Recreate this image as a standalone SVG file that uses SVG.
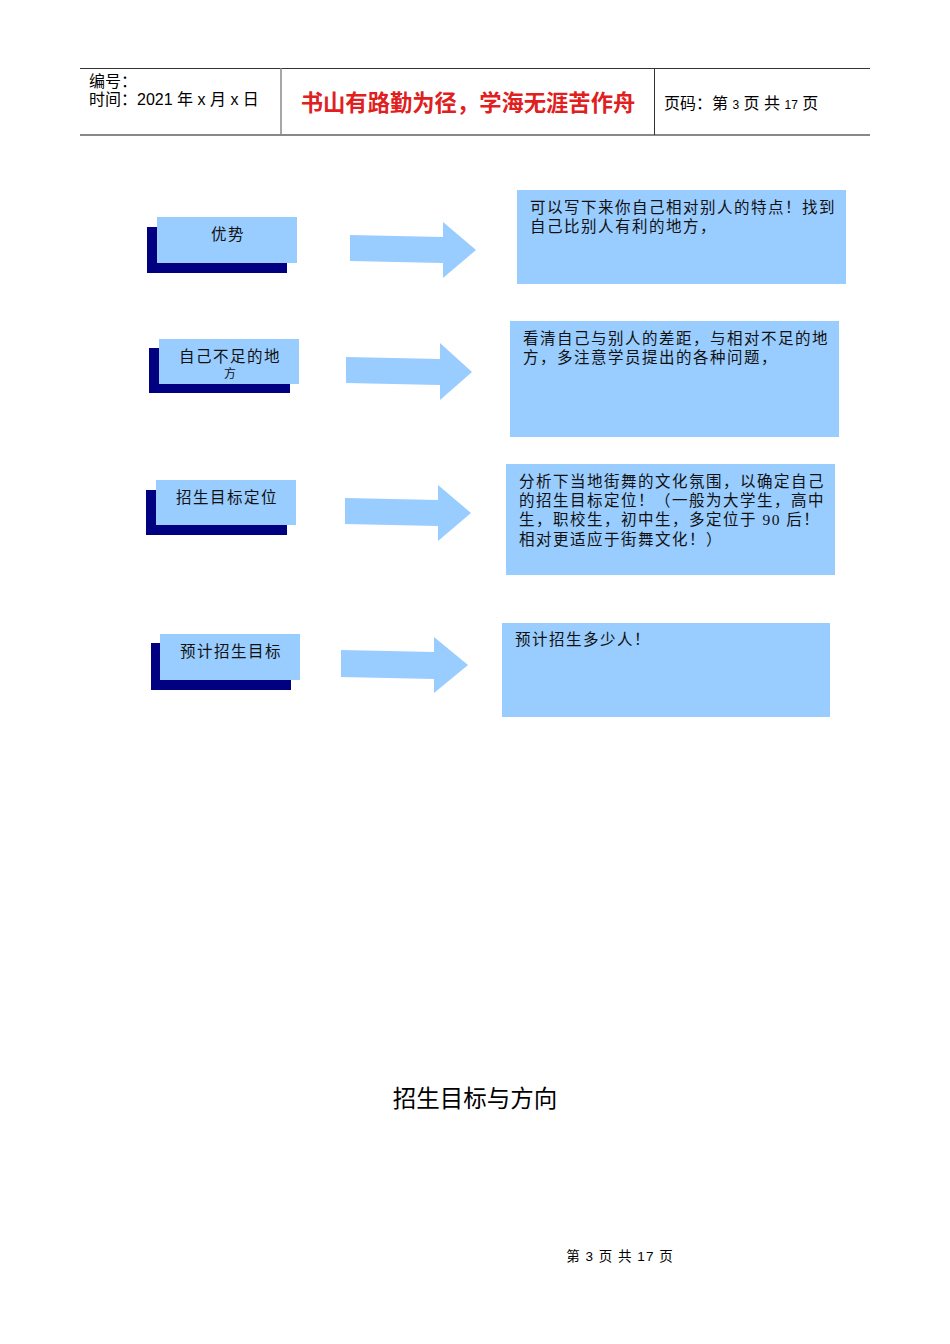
<svg xmlns="http://www.w3.org/2000/svg" width="950" height="1344" viewBox="0 0 950 1344">
<style>
.t{font-family:"Liberation Sans","Noto Sans CJK SC",sans-serif;fill:#000}
.s{font-family:"Liberation Serif","Noto Sans CJK SC",serif;fill:#111;font-size:15.5px;letter-spacing:1.5px}
.lb{fill:#99CCFF}
.dk{fill:#000080}
.ar{fill:#99CCFF}
</style>
<rect width="950" height="1344" fill="#fff"/>
<g id="header">
<line x1="80" y1="68.5" x2="870" y2="68.5" stroke="#333" stroke-width="1"/>
<line x1="80" y1="135" x2="870" y2="135" stroke="#888" stroke-width="2"/>
<line x1="281" y1="68" x2="281" y2="135" stroke="#888" stroke-width="1.5"/>
<line x1="654.5" y1="68" x2="654.5" y2="135" stroke="#333" stroke-width="1"/>
<text class="t" x="89" y="87" font-size="16">编号：</text>
<text class="t" x="89" y="105" font-size="16">时间：2021 年 x 月 x 日</text>
<text x="468" y="111" font-size="22.3" font-weight="bold" text-anchor="middle" fill="#E02020" font-family="'Noto Sans CJK SC',sans-serif">书山有路勤为径，学海无涯苦作舟</text>
<text class="t" x="664" y="109" font-size="16">页码：第 <tspan font-size="12">3</tspan> 页  共 <tspan font-size="12">17</tspan> 页</text>
</g>
<g id="node1">
<rect class="dk" x="147" y="227" width="140" height="46"/>
<rect class="lb" x="157" y="217" width="140" height="46"/>
<text class="s" x="228" y="240" text-anchor="middle">优势</text>
</g>
<g id="node2">
<rect class="dk" x="149" y="348" width="141" height="45"/>
<rect class="lb" x="159" y="339" width="140" height="45"/>
<text class="s" x="230" y="362" text-anchor="middle">自己不足的地</text>
<text class="s" x="230" y="378" font-size="12" text-anchor="middle" style="font-size:12px;letter-spacing:0">方</text>
</g>
<g id="node3">
<rect class="dk" x="146" y="490" width="141" height="45"/>
<rect class="lb" x="156" y="480" width="140" height="45"/>
<text class="s" x="227" y="503" text-anchor="middle">招生目标定位</text>
</g>
<g id="node4">
<rect class="dk" x="151" y="643" width="140" height="47"/>
<rect class="lb" x="160" y="634" width="140" height="46"/>
<text class="s" x="231" y="657" text-anchor="middle">预计招生目标</text>
</g>
<g id="connectors">
<polygon class="ar" points="350,235 443,237 443,222 476,250 443,278 443,263 350,261"/>
<polygon class="ar" points="346,357 440,359 440,343 472,372 440,400 440,385 346,383"/>
<polygon class="ar" points="345,498 438,500 438,485 471,513 438,541 438,526 345,524"/>
<polygon class="ar" points="341,650 434,652 434,637 468,665 434,693 434,679 341,677"/>
</g>
<g id="box1">
<rect class="lb" x="517" y="190" width="329" height="94"/>
<text class="s" x="530" y="213">可以写下来你自己相对别人的特点！找到</text>
<text class="s" x="530" y="232">自己比别人有利的地方，</text>
</g>
<g id="box2">
<rect class="lb" x="510" y="321" width="329" height="116"/>
<text class="s" x="523" y="344">看清自己与别人的差距，与相对不足的地</text>
<text class="s" x="523" y="363">方，多注意学员提出的各种问题，</text>
</g>
<g id="box3">
<rect class="lb" x="506" y="464" width="329" height="111"/>
<text class="s" x="519" y="487">分析下当地街舞的文化氛围，以确定自己</text>
<text class="s" x="519" y="506">的招生目标定位！（一般为大学生，高中</text>
<text class="s" x="519" y="525">生，职校生，初中生，多定位于 90 后！</text>
<text class="s" x="519" y="545">相对更适应于街舞文化！）</text>
</g>
<g id="box4">
<rect class="lb" x="502" y="623" width="328" height="94"/>
<text class="s" x="515" y="645">预计招生多少人！</text>
</g>
<text class="t" x="475" y="1107" font-size="23.5" text-anchor="middle">招生目标与方向</text>
<text class="t" x="620" y="1261" font-size="13.5" text-anchor="middle" fill="#222" letter-spacing="1">第 3 页 共 17 页</text>
</svg>
